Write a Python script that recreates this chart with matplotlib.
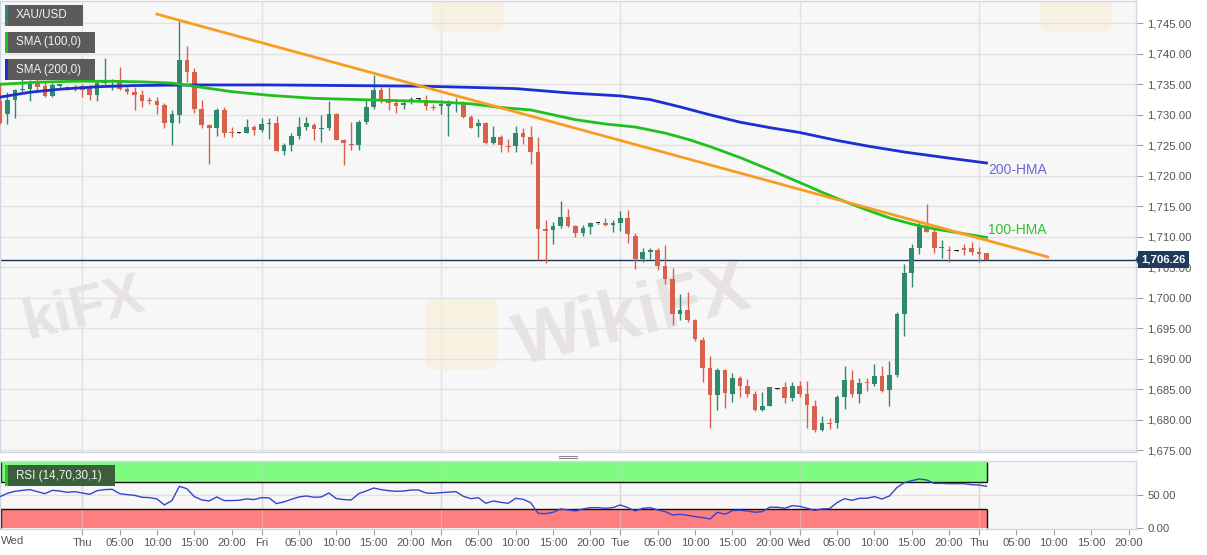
import matplotlib
matplotlib.use("Agg")
import matplotlib.pyplot as plt
import matplotlib.transforms as mtransforms
from matplotlib.patches import Rectangle, FancyBboxPatch, Polygon
from matplotlib.lines import Line2D
from matplotlib.ticker import FuncFormatter

plt.rcParams["font.family"] = ["Liberation Sans", "DejaVu Sans"]

W, H = 1207, 555

# hourly bars, x = bar number counted from Thu 00:00 (weekend hours closed up)
bar_idx = list(range(-11, 122))
opens = [
    1732.2, 1730.2, 1732.4, 1734.0, 1734.3, 1735.2, 1734.7, 1733.1, 1734.8, 1734.5, 1734.2,
    1734.7, 1734.5, 1733.2, 1735.2, 1735.4, 1735.7, 1734.2, 1733.8, 1733.2, 1732.4, 1732.2,
    1731.6, 1728.6, 1730.0, 1739.0, 1737.1, 1731.0, 1728.3, 1727.8, 1730.8, 1727.1, 1727.1,
    1727.1, 1728.0, 1727.5, 1728.5, 1728.6, 1724.1, 1725.0, 1726.5, 1728.0, 1728.3, 1727.7,
    1727.9, 1730.2, 1725.9, 1725.2, 1725.0, 1728.9, 1731.3, 1734.1, 1732.4, 1732.0,
    1731.6, 1732.2, 1732.6, 1732.4, 1731.3, 1731.4, 1731.4, 1731.8, 1731.9, 1729.6, 1728.2,
    1728.7, 1725.4, 1726.4, 1724.9, 1724.9, 1727.1, 1726.4, 1723.9,
    1711.2, 1711.1, 1711.7, 1713.3, 1711.7, 1710.6, 1711.6, 1712.2, 1712.3, 1711.9, 1712.2,
    1713.1, 1710.2, 1706.3, 1707.5, 1707.9, 1705.2, 1703.1, 1697.4, 1698.0, 1696.3, 1693.1,
    1688.5, 1684.0, 1688.2, 1684.3, 1686.9, 1685.5, 1684.2, 1681.6, 1682.3, 1685.1, 1685.4,
    1683.5, 1685.5, 1684.2, 1682.2, 1678.4, 1679.5, 1679.5, 1683.7, 1686.5, 1684.2, 1686.2,
    1685.8, 1687.1, 1684.9, 1687.4, 1697.3, 1704.0, 1708.2, 1711.5, 1710.8, 1708.1, 1707.9,
    1707.7, 1708.1, 1708.1, 1707.5, 1707.4,
]
highs = [
    1735.2, 1733.8, 1734.3, 1738.5, 1735.7, 1735.8, 1735.3, 1735.2, 1735.1, 1734.8, 1734.9,
    1735.0, 1734.9, 1735.7, 1739.3, 1735.9, 1737.9, 1734.5, 1734.5, 1734.1, 1733.0, 1732.9,
    1731.9, 1730.8, 1745.4, 1741.3, 1737.6, 1732.4, 1728.5, 1731.1, 1731.2, 1728.0, 1727.2,
    1729.3, 1728.3, 1729.4, 1729.4, 1729.8, 1725.3, 1727.0, 1729.7, 1729.7, 1728.6, 1730.0,
    1732.2, 1730.3, 1726.1, 1728.9, 1729.1, 1732.4, 1736.5, 1734.5, 1734.5, 1732.5,
    1732.5, 1733.0, 1732.7, 1733.2, 1731.8, 1732.5, 1732.4, 1732.7, 1732.2, 1730.0, 1729.3,
    1728.9, 1728.2, 1726.7, 1726.1, 1728.2, 1727.8, 1728.1, 1726.4,
    1712.7, 1712.4, 1715.9, 1714.6, 1711.9, 1711.9, 1712.4, 1712.3, 1713.1, 1712.8, 1714.2,
    1714.4, 1710.6, 1708.2, 1708.1, 1708.1, 1708.6, 1704.9, 1700.7, 1700.9, 1696.6, 1693.6,
    1690.4, 1688.5, 1688.4, 1687.7, 1687.1, 1686.7, 1684.7, 1684.6, 1685.4, 1685.2, 1686.2,
    1686.2, 1686.4, 1686.4, 1683.2, 1680.7, 1680.3, 1684.0, 1688.9, 1688.2, 1686.9, 1686.9,
    1689.2, 1688.9, 1689.6, 1697.7, 1705.6, 1708.8, 1712.4, 1715.3, 1711.2, 1709.5, 1708.5,
    1707.8, 1708.8, 1709.2, 1708.3, 1707.4,
]
lows = [
    1728.5, 1728.5, 1729.4, 1733.5, 1732.2, 1734.1, 1732.9, 1733.0, 1734.6, 1734.0, 1733.9,
    1733.0, 1732.4, 1732.2, 1735.0, 1734.1, 1734.1, 1733.4, 1730.8, 1731.2, 1731.8, 1730.1,
    1727.8, 1725.0, 1728.7, 1735.3, 1730.3, 1727.8, 1721.9, 1726.5, 1726.4, 1726.4, 1727.0,
    1727.0, 1726.7, 1727.2, 1726.1, 1724.0, 1723.4, 1724.1, 1726.0, 1727.5, 1725.9, 1725.6,
    1727.5, 1725.8, 1721.8, 1724.2, 1724.2, 1728.5, 1731.0, 1732.0, 1730.8, 1730.3,
    1730.9, 1731.8, 1732.5, 1730.8, 1730.8, 1730.2, 1726.5, 1730.5, 1729.4, 1727.8, 1726.4,
    1725.2, 1725.2, 1723.9, 1723.9, 1723.9, 1725.2, 1722.0, 1706.2,
    1705.7, 1708.8, 1711.5, 1711.6, 1709.9, 1710.2, 1710.5, 1712.1, 1711.7, 1710.8, 1711.0,
    1709.0, 1704.8, 1705.9, 1706.4, 1704.6, 1702.3, 1695.5, 1696.3, 1696.0, 1693.0, 1686.2,
    1678.7, 1681.6, 1682.0, 1682.9, 1683.8, 1683.8, 1681.5, 1681.4, 1682.2, 1685.0, 1682.7,
    1683.1, 1683.7, 1678.7, 1678.0, 1678.1, 1678.5, 1678.7, 1681.8, 1683.8, 1682.7, 1684.7,
    1685.6, 1684.5, 1682.3, 1687.0, 1693.8, 1701.8, 1707.2, 1710.8, 1707.3, 1706.6, 1705.9,
    1707.6, 1707.0, 1707.0, 1705.9, 1706.2,
]
closes = [
    1728.6, 1732.4, 1734.0, 1734.3, 1735.2, 1734.6, 1733.1, 1734.9, 1735.0, 1734.2, 1734.6,
    1734.1, 1733.2, 1735.2, 1735.4, 1735.7, 1734.3, 1733.8, 1733.2, 1732.3, 1732.2, 1731.6,
    1728.6, 1730.1, 1739.0, 1737.1, 1730.9, 1728.3, 1727.8, 1730.8, 1727.0, 1727.0, 1727.1,
    1728.0, 1727.5, 1728.5, 1728.6, 1724.1, 1725.0, 1726.5, 1728.0, 1728.6, 1727.7, 1727.9,
    1730.2, 1725.9, 1725.3, 1725.0, 1728.9, 1731.3, 1734.1, 1732.4, 1732.0, 1731.4,
    1731.9, 1732.6, 1732.6, 1731.4, 1731.1, 1731.8, 1731.8, 1732.0, 1729.6, 1727.9, 1728.6,
    1725.4, 1726.4, 1725.0, 1724.8, 1727.1, 1726.4, 1723.9, 1711.3,
    1711.0, 1711.7, 1713.3, 1711.7, 1710.6, 1711.5, 1712.3, 1712.2, 1711.9, 1712.2, 1713.1,
    1710.5, 1706.4, 1707.5, 1707.9, 1705.2, 1703.1, 1697.4, 1698.0, 1696.3, 1693.3, 1688.5,
    1684.0, 1688.2, 1684.4, 1686.9, 1685.5, 1684.2, 1681.6, 1682.2, 1685.3, 1685.1, 1683.5,
    1685.5, 1684.2, 1682.4, 1678.4, 1679.5, 1679.3, 1683.7, 1686.5, 1684.2, 1686.0, 1686.0,
    1687.1, 1684.8, 1687.4, 1697.3, 1704.0, 1708.2, 1711.9, 1710.8, 1708.1, 1708.2, 1707.7,
    1707.7, 1707.8, 1707.5, 1707.2, 1706.26,
]

hma100_idx = [-11, -6, -1, 4, 8, 12, 16, 20, 25, 31, 37, 43, 48, 52, 56, 60, 63,
              66, 70, 74, 78, 81, 84, 88, 92, 96, 99, 102, 105, 108, 111, 114, 117, 121]
hma100_val = [1735.0, 1735.35, 1735.5, 1735.5, 1735.4, 1735.2, 1734.5, 1733.8, 1733.2,
              1732.7, 1732.5, 1732.3, 1732.1, 1731.8, 1731.2, 1730.8, 1730.0, 1729.2,
              1728.5, 1728.0, 1727.0, 1726.0, 1724.8, 1723.0, 1721.0, 1718.9, 1717.3,
              1715.8, 1714.4, 1713.1, 1712.1, 1711.3, 1710.7, 1709.9]
hma200_idx = [-11, -7, -3, 2, 7, 15, 25, 35, 45, 52, 58, 65, 72, 76, 80, 84, 88, 92,
              96, 101, 105, 110, 116, 121]
hma200_val = [1732.9, 1733.7, 1734.2, 1734.6, 1734.8, 1734.9, 1734.9, 1734.8, 1734.7,
              1734.5, 1734.3, 1733.6, 1733.1, 1732.5, 1731.3, 1730.0, 1728.8, 1727.9,
              1727.1, 1725.8, 1724.9, 1723.9, 1722.9, 1722.1]

trend_idx = [10.0, 129.2]
trend_val = [1746.5, 1706.7]

last_price = 1706.26

rsi_vals = [
    48.0, 53.0, 56.0, 57.5, 58.6, 55.5, 52.5, 57.5, 56.5, 54.5, 55.5,
    53.5, 51.5, 57.0, 58.6, 59.1, 52.5, 51.0, 50.0, 47.0, 46.5, 44.5,
    35.4, 42.0, 63.6, 60.0, 48.0, 43.0, 41.5, 47.5, 42.0, 42.0, 42.5,
    44.5, 43.5, 46.5, 46.0, 37.4, 40.0, 44.0, 47.5, 49.0, 47.0, 47.5,
    53.5, 45.0, 43.5, 43.0, 52.5, 56.5, 61.0, 58.6, 57.0, 56.0,
    56.5, 58.0, 58.0, 53.5, 53.0, 54.0, 54.8, 55.5, 48.5, 44.9, 46.4,
    37.9, 41.4, 39.4, 37.9, 45.5, 43.9, 38.9, 22.7, 22.2, 24.3, 29.3,
    27.8, 26.3, 29.3, 31.3, 31.3, 30.3, 31.3, 35.4, 31.3, 26.3, 30.3,
    31.3, 27.8, 25.3, 20.2, 21.2, 19.7, 17.7, 16.2, 14.1, 24.3, 21.2,
    26.8, 27.3, 26.3, 24.3, 25.3, 31.9, 31.9, 30.3, 34.3, 33.3,
    30.3, 27.3, 29.3, 29.8, 38.9, 44.9, 42.4, 45.5, 45.5, 48.0, 44.4,
    49.0, 61.6, 69.2, 72.2, 74.7, 73.2, 68.1, 68.1, 67.6, 67.6, 67.6,
    66.1, 65.6, 63.6,
]

day_idx = [0, 24, 48, 72, 96, 120]
tick_idx = [0, 5, 10, 15, 20, 24, 29, 34, 39, 44, 48, 53, 58, 63, 68,
            72, 77, 82, 87, 92, 96, 101, 106, 111, 116, 120, 125, 130, 135, 140]
tick_labels = ["Thu", "05:00", "10:00", "15:00", "20:00",
               "Fri", "05:00", "10:00", "15:00", "20:00",
               "Mon", "05:00", "10:00", "15:00", "20:00",
               "Tue", "05:00", "10:00", "15:00", "20:00",
               "Wed", "05:00", "10:00", "15:00", "20:00",
               "Thu", "05:00", "10:00", "15:00", "20:00"]
price_ticks = list(range(1675, 1750, 5))

UP = "#2f8a6d"
DOWN = "#d9614c"
PANEL = "#f7f7f7"
GRID = "#e2e2e2"
SPINE = "#d3d6e4"
LABEL = "#555555"
WM = "#e8e3e3"


def fx(px):
    return px / W


def fy(py):
    return 1 - py / H


fig = plt.figure(figsize=(W / 100, H / 100), dpi=100)
ax = fig.add_axes([0, fy(452), fx(1136), fy(1) - fy(452)])
rsi_ax = fig.add_axes([0, fy(529.3), fx(1136), fy(460.7) - fy(529.3)])

for a in (ax, rsi_ax):
    a.set_facecolor(PANEL)
    a.set_xlim(-11, 141)
    for s in a.spines.values():
        s.set_color(SPINE)
        s.set_linewidth(1)
    for d in day_idx:
        a.axvline(d, color=GRID, lw=1, zorder=0.6)
    a.yaxis.tick_right()
    a.tick_params(axis="y", length=5, color="#a0a0a0", labelsize=8.2,
                  labelcolor=LABEL, pad=3)

# ---- price panel
ax.set_ylim(1674.72, 1748.66)
ax.set_yticks(price_ticks)
ax.yaxis.set_major_formatter(FuncFormatter(lambda v, p: f"{v:,.2f}"))
ax.grid(axis="y", color=GRID, lw=1, zorder=0.5)
ax.tick_params(axis="x", bottom=False, labelbottom=False)

# faint watermark
ax.text(fx(633), fy(318), "WikiFX", transform=fig.transFigure, fontsize=52,
        fontweight="bold", color=WM, rotation=14, ha="center", va="center",
        zorder=0.7)
ax.text(fx(84), fy(310), "kiFX", transform=fig.transFigure, fontsize=42,
        fontweight="bold", color=WM, rotation=14, ha="center", va="center",
        zorder=0.7)
for (lx, ly) in [(425, 298), (432, -40), (1040, -40)]:
    ax.add_patch(FancyBboxPatch((fx(lx), fy(ly + 72)), fx(72), 72 / H,
                                boxstyle="round,pad=0,rounding_size=0.012",
                                transform=fig.transFigure, fc="#f6f0dc", ec="none",
                                alpha=0.8, zorder=0.7))

colors = []
for o, c in zip(opens, closes):
    if c > o:
        colors.append(UP)
    elif c < o:
        colors.append(DOWN)
    else:
        colors.append("#222222")
bodies = [max(abs(c - o), 0.16) for o, c in zip(opens, closes)]
bottoms = [min(o, c) for o, c in zip(opens, closes)]
ax.vlines(bar_idx, lows, highs, colors=colors, lw=1, zorder=3)
ax.bar(bar_idx, bodies, bottom=bottoms, width=0.62, color=colors, lw=0, zorder=4)

ax.plot(hma200_idx, hma200_val, color="#1b2fd2", lw=2, zorder=5)
ax.plot(hma100_idx, hma100_val, color="#22c01f", lw=2, zorder=5)
ax.plot(trend_idx, trend_val, color="#f79d22", lw=2, zorder=6)
ax.axhline(last_price, color="#1e3550", lw=1, zorder=2.5)

ax.text(121.2, 1720.9, "200-HMA", color="#6b66da", fontsize=10, ha="left",
        va="center", zorder=7)
ax.text(121.2, 1711.1, "100-HMA", color="#2fbf2f", fontsize=10, ha="left",
        va="center", zorder=7)

# last price tag on the axis
blend = mtransforms.blended_transform_factory(ax.transAxes, ax.transData)
ax.text(1.0 + 5.5 / 1136, last_price, f"{last_price:,.2f}", transform=blend,
        ha="left", va="center", color="white", fontsize=8.2, fontweight="bold",
        bbox=dict(boxstyle="square,pad=0.3", fc="#1f3a5c", ec="none"),
        clip_on=False, zorder=10)
yf = fig.transFigure.inverted().transform(ax.transData.transform((0, last_price)))[1]
fig.add_artist(Polygon([(fx(1135.5), yf), (fx(1139.5), yf + 7 / H),
                        (fx(1139.5), yf - 7 / H)], closed=True,
                       transform=fig.transFigure, fc="#1f3a5c", ec="none"))

# ---- RSI panel
rsi_ax.set_ylim(-1.5, 102.4)
rsi_ax.set_yticks([0, 50])
rsi_ax.set_yticklabels(["0.00", "50.00"])
rsi_ax.axhline(50, color=GRID, lw=1, zorder=0.5)
band_end = bar_idx[-1] + 0.1
rsi_ax.add_patch(Rectangle((-11, 70), band_end + 11, 30, fc="#7ffb7f", ec="none",
                           zorder=1))
rsi_ax.add_patch(Rectangle((-11, 0), band_end + 11, 30, fc="#fd7f7f", ec="none",
                           zorder=1))
for d in day_idx:
    rsi_ax.axvline(d, color="#d0d0d0", lw=1, alpha=0.5, zorder=1.2)
rsi_ax.hlines([70, 30], -11, band_end, color="#111111", lw=1, zorder=2)
rsi_ax.vlines([band_end, band_end], [70, 0], [100, 30], color="#111111", lw=1, zorder=2)
rsi_ax.vlines([-10.9, -10.9], [70, 0], [100, 30], color="#111111", lw=1, zorder=2)
rsi_ax.plot(bar_idx, rsi_vals, color="#3744cc", lw=1, zorder=5)

rsi_ax.set_xticks(tick_idx)
rsi_ax.set_xticklabels(tick_labels)
rsi_ax.tick_params(axis="x", length=4, color="#a0a0a0", labelsize=8.2,
                   labelcolor=LABEL, pad=2)
fig.text(fx(1), fy(541), "Wed", ha="left", va="center", fontsize=8.2, color=LABEL)

# panel splitter handle
for py in (456, 458):
    fig.add_artist(Line2D([fx(559), fx(577)], [fy(py), fy(py)], color="#8a8a8a",
                          lw=0.8, transform=fig.transFigure))


# legend tags
def tag(x0, y0, x1, y1, text, fc, stripe):
    fig.add_artist(Rectangle((fx(x0), fy(y1)), fx(x1 - x0), (y1 - y0) / H,
                             transform=fig.transFigure, fc=fc, ec="none", zorder=8))
    fig.add_artist(Rectangle((fx(x0), fy(y1)), fx(2.5), (y1 - y0) / H,
                             transform=fig.transFigure, fc=stripe, ec="none", zorder=9))
    fig.text(fx(x0 + 11), fy((y0 + y1) / 2), text, ha="left", va="center",
             fontsize=8.4, color="#f2f2f2", zorder=10)


tag(5, 5, 83, 26, "XAU/USD", "#5b5b5b", "#2f8a6d")
tag(5, 32, 95, 53, "SMA (100,0)", "#5b5b5b", "#22c01f")
tag(5, 59, 95, 80, "SMA (200,0)", "#5b5b5b", "#1b2fd2")
tag(5, 465, 115, 486, "RSI (14,70,30,1)", "#3b5e3b", "#22cc22")

fig.savefig("out.png", dpi=100, facecolor="white")
